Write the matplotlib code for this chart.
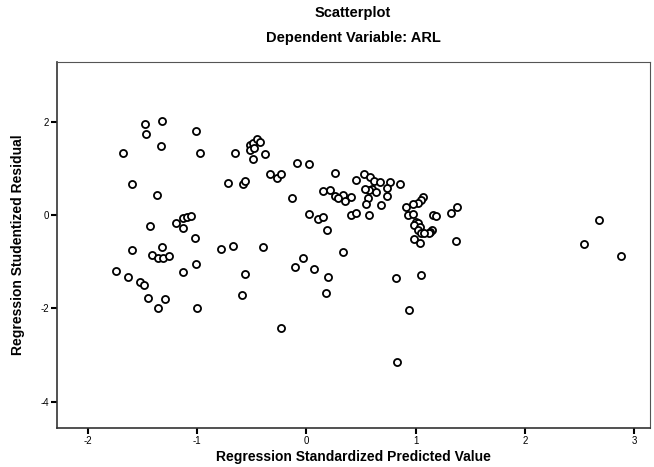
import numpy as np
import matplotlib
matplotlib.use('Agg')
import matplotlib.pyplot as plt

plt.rcParams['font.family'] = ['Liberation Sans', 'DejaVu Sans']
plt.rcParams['axes.unicode_minus'] = False

# regression standardized predicted value / studentized residual
pred = [-1.48, -1.32, -1.47, -1.01, -1.68, -1.33, -0.97, -0.65, -0.52, -0.49,
        -0.45, -0.42, -0.52, -0.48, -0.49, -0.38, -1.60, -1.37, -0.72, -0.58,
        -0.56, -1.43, -1.19, -1.13, -1.09, -1.06, -1.13, -1.02, -1.60, -1.32,
        -1.41, -1.36, -1.31, -1.26, -0.78, -0.67, -0.40, -1.74, -1.63, -1.52,
        -1.49, -1.13, -1.01, -0.56, -1.45, -1.29, -1.36, -1.00, -0.59, -0.23,
        -0.09, 0.02, -0.33, -0.27, -0.23, 0.26, 0.45, 0.53, 0.58, 0.62,
        0.67, 0.60, 0.57, 0.54, 0.64, 0.77, 0.86, 0.74, 0.74, 0.15,
        0.22, 0.26, 0.34, 0.41, 0.29, 0.35, 0.56, 0.55, 0.68, -0.13,
        0.02, 0.11, 0.15, 0.19, 0.41, 0.45, 0.57, 0.34, -0.03, -0.10,
        0.07, 0.20, 0.18, 0.82, 1.05, 0.94, 0.83, 1.07, 1.05, 1.02,
        0.91, 0.98, 1.38, 1.32, 0.93, 0.98, 1.16, 1.19, 1.00, 1.02,
        0.99, 1.04, 1.02, 1.05, 1.15, 1.13, 1.12, 1.08, 0.99, 1.04,
        1.37, 2.68, 2.54, 2.88]
resid = [1.95, 2.01, 1.73, 1.81, 1.33, 1.48, 1.32, 1.33, 1.50, 1.54,
         1.62, 1.57, 1.39, 1.43, 1.21, 1.31, 0.66, 0.42, 0.69, 0.66,
         0.73, -0.23, -0.18, -0.06, -0.04, -0.01, -0.28, -0.50, -0.74, -0.68,
         -0.86, -0.91, -0.93, -0.88, -0.73, -0.66, -0.68, -1.20, -1.33, -1.43,
         -1.50, -1.21, -1.05, -1.27, -1.77, -1.80, -1.99, -1.99, -1.72, -2.43,
         1.11, 1.09, 0.88, 0.79, 0.89, 0.91, 0.76, 0.88, 0.82, 0.73,
         0.70, 0.56, 0.54, 0.56, 0.50, 0.71, 0.66, 0.57, 0.41, 0.51,
         0.54, 0.41, 0.44, 0.39, 0.36, 0.30, 0.37, 0.23, 0.21, 0.37,
         0.02, -0.09, -0.04, -0.31, 0.00, 0.05, 0.01, -0.79, -0.93, -1.11,
         -1.16, -1.32, -1.68, -1.34, -1.29, -2.04, -3.16, 0.38, 0.32, 0.25,
         0.18, 0.23, 0.18, 0.04, 0.00, 0.02, 0.00, -0.01, -0.14, -0.18,
         -0.21, -0.25, -0.32, -0.39, -0.31, -0.36, -0.39, -0.39, -0.52, -0.59,
         -0.55, -0.11, -0.61, -0.87]

xticks = [-2, -1, 0, 1, 2, 3]
yticks = [-4, -2, 0, 2]

fig = plt.figure(figsize=(6.54, 4.67), dpi=100)
ax = fig.add_axes([0.087, 0.0835, 0.907, 0.7835])

ax.scatter(pred, resid, s=26, facecolors='white', edgecolors='black',
           linewidths=1.3, zorder=3)

ax.set_xlim(-2.284, 3.147)
ax.set_ylim(-4.564, 3.278)
ax.set_xticks(xticks)
ax.set_yticks(yticks)
ax.tick_params(direction='out', length=4, width=1.5, labelsize=7, pad=1.5)

for s in ['top', 'right']:
    ax.spines[s].set_color('#555555')
    ax.spines[s].set_linewidth(0.8)
for s in ['left', 'bottom']:
    ax.spines[s].set_color('#333333')
    ax.spines[s].set_linewidth(1.2)

# axis titles placed by hand so they sit like the original
fig.text(0.54, 0.021, 'Regression Standardized Predicted Value', ha='center',
         va='center', fontsize=10, fontweight='bold')
fig.text(0.028, 0.475, 'Regression Studentized Residual', ha='center',
         va='center', rotation=90, fontsize=10, fontweight='bold')

fig.text(0.54, 0.972, 'Scatterplot', ha='center', va='center',
         fontsize=10.5, fontweight='bold')
fig.text(0.54, 0.918, 'Dependent Variable: ARL', ha='center', va='center',
         fontsize=10.5, fontweight='bold')

fig.savefig('out.png', dpi=100)
